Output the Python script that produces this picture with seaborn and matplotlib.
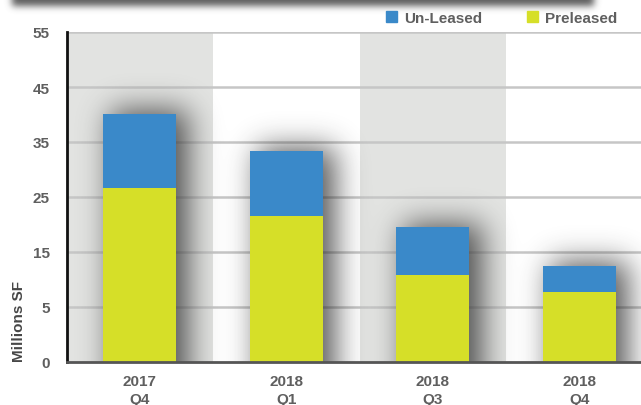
import numpy as np
import pandas as pd
import matplotlib
matplotlib.use("Agg")
import matplotlib.pyplot as plt
from matplotlib.patches import Patch
import seaborn as sns

# data (millions of square feet)
periods = ["2017\nQ4", "2018\nQ1", "2018\nQ3", "2018\nQ4"]
preleased = [26.6, 21.5, 10.8, 7.7]
unleased = [13.5, 11.8, 8.7, 4.8]
y_ticks = [0, 5, 15, 25, 35, 45, 55]

BLUE = "#3a89c9"
YELLOW = "#d6df28"
BAND = "#e2e3e1"
GRID = "#c6c6c6"
TEXT = "#5f5f5f"

sns.set_style("white")
plt.rcParams["font.family"] = ["Liberation Sans", "DejaVu Sans"]
plt.rcParams["font.weight"] = "bold"


def blur(a, sigma):
    r = int(3 * sigma)
    k = np.exp(-0.5 * (np.arange(-r, r + 1) / sigma) ** 2)
    k /= k.sum()
    a = np.apply_along_axis(lambda m: np.convolve(m, k, mode="same"), 0, a)
    a = np.apply_along_axis(lambda m: np.convolve(m, k, mode="same"), 1, a)
    return a


# the y axis of the original is stretched below 5 (0 and 5 one full step apart)
def fwd(v):
    v = np.asarray(v, dtype=float)
    return np.where(v < 5, 2 * v, v + 5)


def inv(p):
    p = np.asarray(p, dtype=float)
    return np.where(p < 10, p / 2, p - 5)


df = pd.DataFrame({"period": periods, "Preleased": preleased, "Un-Leased": unleased})
df["total"] = df["Preleased"] + df["Un-Leased"]

fig = plt.figure(figsize=(6.41, 4.06), dpi=100)
fig.patch.set_facecolor("white")

# drop shadow of the title box above the chart
bg = fig.add_axes([0, 0, 1, 1], zorder=-1)
bg.axis("off")
strip = np.zeros((406 + 80, 641 + 80))
strip[0:40 + 7, 40 + 12:40 + 594] = 1
strip = blur(strip, 3.5)[40:40 + 406, 40:40 + 641]
rgba = np.zeros((406, 641, 4))
rgba[..., :3] = 0.3
rgba[..., 3] = 0.9 * strip
bg.imshow(rgba, extent=(0, 641, 406, 0), aspect="auto")
bg.set_xlim(0, 641)
bg.set_ylim(406, 0)

ax_l, ax_b = 66.5 / 641, 43 / 406
ax_w, ax_h = (641 - 66.5) / 641, 330 / 406
ax = fig.add_axes([ax_l, ax_b, ax_w, ax_h])
ax.set_facecolor("white")

sns.barplot(data=df, x="period", y="total", color=BLUE, saturation=1,
            width=0.5, zorder=3, linewidth=0, edgecolor="none", ax=ax)
sns.barplot(data=df, x="period", y="Preleased", color=YELLOW, saturation=1,
            width=0.5, zorder=3, linewidth=0, edgecolor="none", ax=ax)

ax.set_yscale("function", functions=(fwd, inv))
xmin, xmax = -0.5, -0.5 + (641 - 66.5) / 146.5
ax.set_xlim(xmin, xmax)
ax.set_ylim(0, 55)
ax.set_autoscale_on(False)

# alternating background bands
for i in range(0, len(periods), 2):
    ax.axvspan(i - 0.5, i + 0.5, color=BAND, zorder=0, lw=0)
for t in y_ticks[1:]:
    ax.axhline(t, color=GRID, lw=1.8, zorder=1)

# soft shadows behind the bars
W, H, P = 575, 330, 60
mask = np.zeros((H + 2 * P, W + 2 * P))
to_axes = ax.transScale + ax.transLimits
for i, tot in enumerate(df["total"]):
    (x0, _), (x1, y1) = to_axes.transform([[i - 0.25, 0], [i + 0.25, tot]])
    c0 = int(P + x0 * W + 8)
    c1 = int(P + x1 * W + 12)
    r1 = int(P + y1 * H + 4)
    mask[0:r1, c0:c1] = 1
mask = blur(mask, 15)[P:P + H, P:P + W]
sh = np.zeros((H, W, 4))
sh[..., :3] = 0.15
sh[..., 3] = 0.78 * mask
ax.imshow(sh, extent=(0, 1, 0, 1), transform=ax.transAxes, origin="lower",
          aspect="auto", zorder=2, interpolation="bilinear")
ax.set_xlim(xmin, xmax)
ax.set_ylim(0, 55)

# axes cosmetics
for s in ["top", "right"]:
    ax.spines[s].set_visible(False)
ax.spines["left"].set_color("#111111")
ax.spines["left"].set_linewidth(2)
ax.spines["bottom"].set_color("#555555")
ax.spines["bottom"].set_linewidth(2)
ax.spines["left"].set_zorder(4)
ax.spines["bottom"].set_zorder(4)

ax.set_yticks(y_ticks)
ax.set_yticklabels([str(t) for t in y_ticks])
ax.yaxis.set_minor_locator(matplotlib.ticker.NullLocator())
ax.tick_params(axis="y", direction="inout", length=13, width=2, color="#111111",
               labelsize=11, labelcolor=TEXT, pad=5.5)

ax.set_xticks(range(len(periods)))
ax.set_xticklabels(periods, linespacing=1.35)
ax.set_xticks([i - 0.5 for i in range(len(periods))], minor=True)
ax.tick_params(axis="x", which="major", length=0, labelsize=11,
               labelcolor=TEXT, pad=9)
ax.tick_params(axis="x", which="minor", direction="inout", length=10,
               width=1.5, color="#333333")
ax.set_xlabel("")
ax.set_ylabel("")

fig.text(19 / 641, 1 - 322 / 406, "Millions SF", rotation=90, ha="center",
         va="center", fontsize=11, fontweight="bold", color="#474747")

handles = [Patch(color=BLUE, label="Un-Leased"), Patch(color=YELLOW, label="Preleased")]
fig.legend(handles=handles, loc="center left", bbox_to_anchor=(386 / 641, 1 - 19 / 406),
           ncol=2, frameon=False, handlelength=0.72, handleheight=0.72,
           handletextpad=0.45, columnspacing=2.95, borderpad=0, borderaxespad=0,
           prop={"size": 11, "weight": "bold"}, labelcolor=TEXT)

fig.savefig("out.png", dpi=100)
